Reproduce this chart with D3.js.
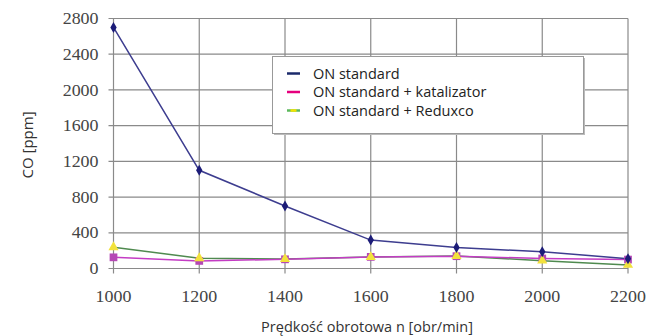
<!DOCTYPE html>
<html>
<head>
<meta charset="utf-8">
<script src="https://cdn.jsdelivr.net/npm/d3@7"></script>
<style>
  body { margin: 0; background: #fff; }
  svg { display: block; }
</style>
</head>
<body>
<svg id="chart"></svg>
<script>
// Chart data
const rpm = [1000, 1200, 1400, 1600, 1800, 2000, 2200];
const onStandard = [2700, 1100, 700, 318, 234, 188, 110];
const onKatalizator = [125, 85, 103, 130, 138, 112, 100];
const onReduxco = [238, 115, 106, 128, 140, 88, 40];
const yTicks = [0, 400, 800, 1200, 1600, 2000, 2400, 2800];
const seriesNames = ["ON standard", "ON standard + katalizator", "ON standard + Reduxco"];

const width = 646, height = 336;
const svg = d3.select("#chart").attr("width", width).attr("height", height);

const serif = "'Liberation Serif', serif";
const sans = "'Open Sans', 'Noto Sans', sans-serif";

// plot box edges
const plotLeft = 113.5, plotRight = 628, plotTop = 18.5, plotBottom = 268.5;

const x = d3.scaleLinear().domain([1000, 2200]).range([plotLeft, plotRight]);
const y = d3.scaleLinear().domain([0, 2800]).range([plotBottom, plotTop]);

// Grid lines
const grid = svg.append("g");
grid.selectAll(".hg").data(yTicks).join("line")
  .attr("x1", plotLeft - 5).attr("x2", plotRight)
  .attr("y1", d => y(d)).attr("y2", d => y(d))
  .attr("stroke", "#8a8a8a").attr("stroke-width", 1.2);
grid.selectAll(".vg").data(rpm).join("line")
  .attr("x1", d => x(d)).attr("x2", d => x(d))
  .attr("y1", plotTop).attr("y2", plotBottom + 5)
  .attr("stroke", "#8a8a8a").attr("stroke-width", 1.2);

// Y tick labels (serif, a bit wider like the scanned original)
svg.append("g").selectAll("text").data(yTicks).join("text")
  .attr("transform", d => `translate(${plotLeft - 15},${y(d)}) scale(1.12,1)`)
  .attr("dy", "0.35em").attr("text-anchor", "end")
  .attr("font-family", serif).attr("font-size", 16)
  .attr("fill", "#444")
  .text(d => d);

// X tick labels
svg.append("g").selectAll("text").data(rpm).join("text")
  .attr("transform", d => `translate(${x(d)},296) scale(1.12,1)`)
  .attr("dy", "0.35em").attr("text-anchor", "middle")
  .attr("font-family", serif).attr("font-size", 16)
  .attr("fill", "#444")
  .text(d => d);

// Axis titles
svg.append("text")
  .attr("transform", "translate(33,145) rotate(-90)")
  .attr("text-anchor", "middle")
  .attr("font-family", sans).attr("font-size", 15)
  .attr("fill", "#333")
  .text("CO [ppm]");
svg.append("text")
  .attr("x", 367).attr("y", 327).attr("dy", "0.35em")
  .attr("text-anchor", "middle")
  .attr("font-family", sans).attr("font-size", 14.5)
  .attr("fill", "#333")
  .text("Prędkość obrotowa n [obr/min]");

const line = d3.line().x(d => x(d[0])).y(d => y(d[1]));

function drawSeries(values, color, w) {
  svg.append("path")
    .datum(rpm.map((r, i) => [r, values[i]]))
    .attr("fill", "none").attr("stroke", color).attr("stroke-width", w)
    .attr("d", line);
}

drawSeries(onReduxco, "#4f8a4f", 1.5);
drawSeries(onKatalizator, "#c43cc4", 1.5);
drawSeries(onStandard, "#3d3d8f", 1.5);

// Markers
svg.append("g").selectAll("path").data(rpm).join("path")
  .attr("transform", (d, i) => `translate(${x(d)},${y(onKatalizator[i])})`)
  .attr("d", d3.symbol(d3.symbolSquare, 60))
  .attr("fill", "#b548b5");
svg.append("g").selectAll("path").data(rpm).join("path")
  .attr("transform", (d, i) => `translate(${x(d)},${y(onReduxco[i])})`)
  .attr("d", d3.symbol(d3.symbolTriangle, 45))
  .attr("fill", "#f2e23c");
svg.append("g").selectAll("path").data(rpm).join("path")
  .attr("transform", (d, i) => `translate(${x(d)},${y(onStandard[i])})`)
  .attr("d", d3.symbol(d3.symbolDiamond, 35))
  .attr("fill", "#1c1c78");

// Legend
const lg = svg.append("g");
lg.append("rect")
  .attr("x", 274).attr("y", 58).attr("width", 311).attr("height", 77)
  .attr("fill", "#bbb");
lg.append("rect")
  .attr("x", 272.5).attr("y", 56.5).attr("width", 311).attr("height", 77)
  .attr("fill", "#fff").attr("stroke", "#999").attr("stroke-width", 1);

const legendColors = ["#1b2a6b", "#e5007d", "#5cb85c"];
const legendY = [73.5, 92, 110.5];
seriesNames.forEach((name, i) => {
  lg.append("line")
    .attr("x1", 287).attr("x2", 300)
    .attr("y1", legendY[i]).attr("y2", legendY[i])
    .attr("stroke", legendColors[i]).attr("stroke-width", 2.5);
  if (i === 2) {
    lg.append("line")
      .attr("x1", 290.5).attr("x2", 296.5)
      .attr("y1", legendY[i]).attr("y2", legendY[i])
      .attr("stroke", "#f5e400").attr("stroke-width", 2.5);
  }
  lg.append("text")
    .attr("x", 313).attr("y", legendY[i]).attr("dy", "0.35em")
    .attr("font-family", sans).attr("font-size", 14.5)
    .attr("fill", "#222")
    .text(name);
});
</script>
</body>
</html>
